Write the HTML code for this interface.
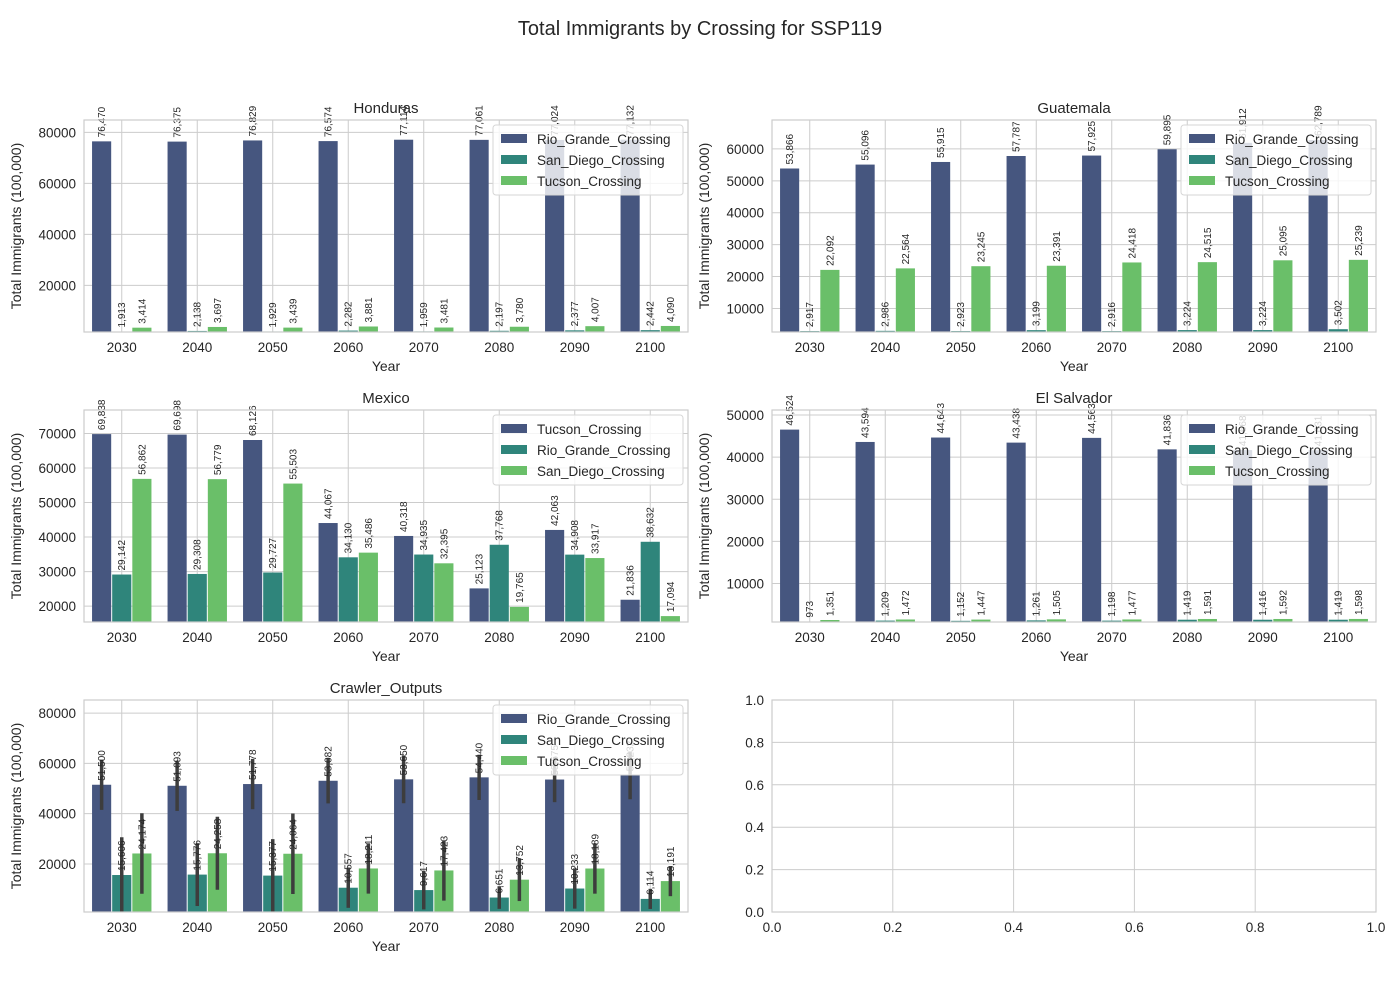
<!DOCTYPE html>
<html><head><meta charset="utf-8"><style>
body{margin:0;background:#fff}
svg text{font-family:"Liberation Sans","DejaVu Sans",sans-serif}
</style></head><body>
<svg id="fig" width="1400" height="1000" viewBox="0 0 1400 1000" xmlns="http://www.w3.org/2000/svg">
<rect width="1400" height="1000" fill="#fff"/>
<text x="700" y="35" text-anchor="middle" font-size="20" fill="#262626">Total Immigrants by Crossing for SSP119</text>
</svg>
<script>
const years = ["2030","2040","2050","2060","2070","2080","2090","2100"];
const hondurasRio = [76470,76375,76829,76574,77114,77061,77024,77132];
const hondurasSanDiego = [1913,2138,1929,2282,1959,2197,2377,2442];
const hondurasTucson = [3414,3697,3439,3881,3481,3780,4007,4090];
const guatemalaRio = [53866,55096,55915,57787,57925,59895,61912,62789];
const guatemalaSanDiego = [2917,2986,2923,3199,2916,3224,3224,3502];
const guatemalaTucson = [22092,22564,23245,23391,24418,24515,25095,25239];
const mexicoTucson = [69838,69698,68126,44067,40318,25123,42063,21836];
const mexicoRio = [29142,29308,29727,34130,34935,37768,34908,38632];
const mexicoSanDiego = [56862,56779,55503,35486,32395,19765,33917,17094];
const salvadorRio = [46524,43594,44643,43438,44563,41836,41668,41631];
const salvadorSanDiego = [973,1209,1152,1261,1198,1419,1416,1419];
const salvadorTucson = [1351,1472,1447,1505,1477,1591,1592,1598];
const crawlerRio = [51500,51093,51778,53082,53650,54440,53575,55232];
const crawlerSanDiego = [15606,15776,15377,10557,9617,6651,10233,6114];
const crawlerTucson = [24174,24258,24064,18211,17423,13752,18189,13191];
const crawlerRioErr = [10000,10000,10000,9000,9500,9000,9000,9500];
const crawlerSanDiegoErr = [15000,12500,14500,8000,7700,4500,8000,4000];
const crawlerTucsonErr = [16000,14500,16000,10000,12000,8500,10000,6000];
const hondurasTicks = [20000,40000,60000,80000];
const guatemalaTicks = [10000,20000,30000,40000,50000,60000];
const mexicoTicks = [20000,30000,40000,50000,60000,70000];
const salvadorTicks = [10000,20000,30000,40000,50000];
const crawlerTicks = [20000,40000,60000,80000];
const crawlerYlim = [900,85200];
const emptyTicks = ["0.0","0.2","0.4","0.6","0.8","1.0"];

const C = ["#46567f","#2f857b","#6abf69"];
const NS="http://www.w3.org/2000/svg";
const svg=document.getElementById('fig');
function el(tag,attrs,parent){const e=document.createElementNS(NS,tag);for(const k in attrs)e.setAttribute(k,attrs[k]);(parent||svg).appendChild(e);return e;}
function fmt(v){return Math.round(v).toLocaleString('en-US');}

function panel(cfg){
  const g=el('g',{});
  
  
  const x0=cfg.x,x1=cfg.x+604,y0=cfg.y,y1=cfg.y+212;
  let lo,hi;
  if(cfg.ylim){lo=cfg.ylim[0];hi=cfg.ylim[1];}
  else{const all=[].concat(...cfg.series);lo=Math.min(...all)*0.9;hi=Math.max(...all)*1.1;}
  const ys=v=>y1-(v-lo)/(hi-lo)*(y1-y0);
  const cw=(x1-x0)/years.length;
  const xs=i=>x0+(i+0.5)*cw;
  el('rect',{x:x0,y:y0,width:604,height:212,fill:'#fff'},g);
  // grid
  years.forEach((yr,i)=>{
    const gl=el('line',{x1:xs(i),x2:xs(i),y1:y0,y2:y1,stroke:'#cccccc','stroke-width':1},g);
    
    
    const t=el('text',{x:xs(i),y:y1+20,'text-anchor':'middle','font-size':13.5,fill:'#262626'},g);
    t.textContent=yr;
    
    
  });
  cfg.ticks.forEach(tv=>{
    const gl=el('line',{x1:x0,x2:x1,y1:ys(tv),y2:ys(tv),stroke:'#cccccc','stroke-width':1},g);
    
    
    const t=el('text',{x:x0-8,y:ys(tv)+5,'text-anchor':'end','font-size':13.5,fill:'#262626'},g);
    t.textContent=tv;
    
    
  });
  const bw=0.8*cw/3;
  cfg.series.forEach((s,j)=>{
    s.forEach((v,i)=>{
      const cx=xs(i)+(j-1)*bw;
      const b=el('rect',{x:cx-bw/2+0.5,y:ys(v),width:bw-1,height:y1-ys(v),fill:C[j]},g);
      
      
    });
  });
  if(cfg.err){
    cfg.series.forEach((s,j)=>{
      s.forEach((v,i)=>{
        const cx=xs(i)+(j-1)*bw;
        const e=cfg.err[j][i];
        const a=Math.max(ys(v+e),y0),bb=Math.min(ys(v-e),y1);
        const l=el('line',{x1:cx,x2:cx,y1:a,y2:bb,stroke:'#3d3d3d','stroke-width':3.5},g);
        
        
      });
    });
  }
  cfg.series.forEach((s,j)=>{
    s.forEach((v,i)=>{
      const cx=xs(i)+(j-1)*bw+3.5;
      const ty=ys(v)-4;
      const t=el('text',{x:cx,y:ty,'font-size':10,fill:'#262626',transform:`rotate(-90 ${cx} ${ty})`},g);
      t.textContent=fmt(v);
      
      
    });
  });
  // spines
  el('rect',{x:x0,y:y0,width:604,height:212,fill:'none',stroke:'#cccccc','stroke-width':1.2},g);
  const ti=el('text',{x:(x0+x1)/2,y:y0-7,'text-anchor':'middle','font-size':15,fill:'#262626'},g);
  ti.textContent=cfg.title;
  
  
  const xl=el('text',{x:(x0+x1)/2,y:y1+39,'text-anchor':'middle','font-size':14,fill:'#262626'},g);
  xl.textContent='Year';
  
  
  const lx=x0-63,ly=(y0+y1)/2;
  const yl=el('text',{x:lx,y:ly,'text-anchor':'middle','font-size':14,fill:'#262626',transform:`rotate(-90 ${lx} ${ly})`},g);
  yl.textContent='Total Immigrants (100,000)';
  
  
  // legend
  const lg=el('g',{},g);
  
  
  el('rect',{x:x1-195,y:y0+5,width:190,height:70,rx:3,fill:'rgba(255,255,255,0.8)',stroke:'#d6d6d6'},lg);
  cfg.names.forEach((n,j)=>{
    const ey=y0+19+j*21;
    const p=el('rect',{x:x1-187,y:ey-5,width:26,height:9,fill:C[j]},lg);
    
    
    const t=el('text',{x:x1-151,y:ey+5,'font-size':13.5,fill:'#262626'},lg);
    t.textContent=n;
    
    
  });
}
const L=["Rio_Grande_Crossing","San_Diego_Crossing","Tucson_Crossing"];
panel({id:'honduras',title:'Honduras',x:84,y:120,series:[hondurasRio,hondurasSanDiego,hondurasTucson],names:L,ticks:hondurasTicks});
panel({id:'guatemala',title:'Guatemala',x:772,y:120,series:[guatemalaRio,guatemalaSanDiego,guatemalaTucson],names:L,ticks:guatemalaTicks});
panel({id:'mexico',title:'Mexico',x:84,y:410,series:[mexicoTucson,mexicoRio,mexicoSanDiego],names:["Tucson_Crossing","Rio_Grande_Crossing","San_Diego_Crossing"],ticks:mexicoTicks});
panel({id:'el-salvador',title:'El Salvador',x:772,y:410,series:[salvadorRio,salvadorSanDiego,salvadorTucson],names:L,ticks:salvadorTicks});
panel({id:'crawler',title:'Crawler_Outputs',x:84,y:700,series:[crawlerRio,crawlerSanDiego,crawlerTucson],names:L,ticks:crawlerTicks,ylim:crawlerYlim,err:[crawlerRioErr,crawlerSanDiegoErr,crawlerTucsonErr]});
// empty axes
(function(){
  const g=el('g',{});
  
  
  const x0=772,y0=700,w=604,h=212;
  emptyTicks.forEach((t,i)=>{
    const x=x0+i*w/5,y=y0+h-i*h/5;
    el('line',{x1:x,x2:x,y1:y0,y2:y0+h,stroke:'#cccccc'},g);
    el('line',{x1:x0,x2:x0+w,y1:y,y2:y,stroke:'#cccccc'},g);
    const tx=el('text',{x:x,y:y0+h+20,'text-anchor':'middle','font-size':13.5,fill:'#262626'},g);
    tx.textContent=t;
    
    
    const ty=el('text',{x:x0-8,y:y+5,'text-anchor':'end','font-size':13.5,fill:'#262626'},g);
    ty.textContent=t;
    
    
  });
  el('rect',{x:x0,y:y0,width:w,height:h,fill:'none',stroke:'#cccccc','stroke-width':1.2},g);
})();
</script>
</body></html>
